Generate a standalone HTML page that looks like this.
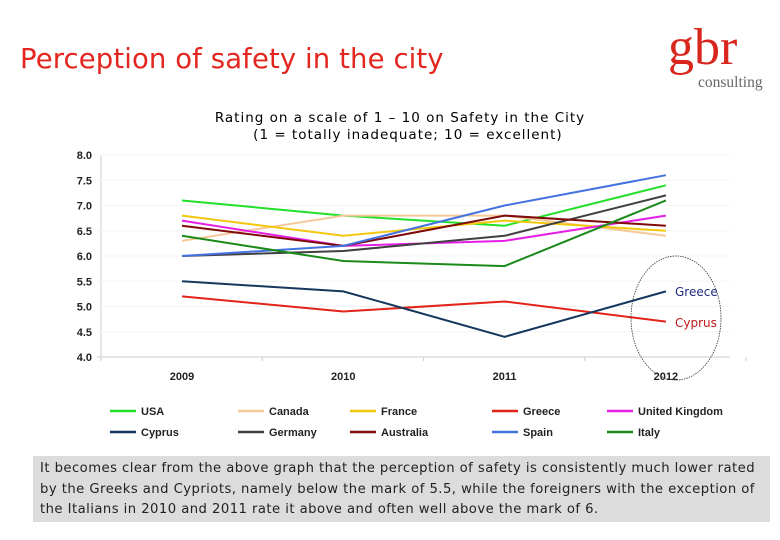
<!DOCTYPE html>
<html><head><meta charset="utf-8"><style>
body{margin:0;width:780px;height:540px;background:#fff;overflow:hidden;position:relative;font-family:"DejaVu Sans","Liberation Sans",sans-serif}
.t{position:absolute}
</style></head><body>
<div class="t" style="left:20px;top:43px;font-size:27.5px;color:#e3261f;font-family:'DejaVu Sans',sans-serif;letter-spacing:0.1px">Perception of safety in the city</div>
<div class="t" style="left:668px;top:18px;width:110px;height:75px">
<div style="position:absolute;left:0;top:0;font-family:'Liberation Serif',serif;font-size:52px;color:#d8261c;line-height:60px">gbr</div>
<div style="position:absolute;left:30px;top:56px;font-family:'Liberation Serif',serif;font-size:15.5px;color:#666">consulting</div></div>
<div class="t" style="left:180px;top:110px;width:440px;text-align:center;font-size:13.5px;letter-spacing:1px;line-height:17px;color:#000">Rating on a scale of 1 – 10 on Safety in the City<br>&nbsp;&nbsp;&nbsp;(1 = totally inadequate; 10 = excellent)</div>
<svg class="t" style="left:0;top:0" width="780" height="540" id="chart"></svg>
<div class="t" style="left:33px;top:456px;width:737px;height:66px;background:#dcdcdc;padding:3px 4px 0 7px;box-sizing:border-box;font-size:13.2px;letter-spacing:0.45px;line-height:20.5px;color:#222">It becomes clear from the above graph that the perception of safety is consistently much lower rated by the Greeks and Cypriots, namely below the mark of 5.5, while the foreigners with the exception of the Italians in 2010 and 2011 rate it above and often well above the mark of 6.</div>
<script>
const years=["2009","2010","2011","2012"];
const yTicks=[4.0,4.5,5.0,5.5,6.0,6.5,7.0,7.5,8.0];
const seriesNames=["USA","Canada","France","Greece","United Kingdom","Cyprus","Germany","Australia","Spain","Italy"];
const seriesColors=["#22e02a","#f5c99a","#f2c80f","#e2231a","#e61fe6","#17375e","#404040","#7f0a0a","#4472e0","#1a8a1a"];
const usa=[7.1,6.8,6.6,7.4];
const canada=[6.3,6.8,6.8,6.4];
const france=[6.8,6.4,6.7,6.5];
const greece=[5.2,4.9,5.1,4.7];
const uk=[6.7,6.2,6.3,6.8];
const cyprus=[5.5,5.3,4.4,5.3];
const germany=[6.0,6.1,6.4,7.2];
const australia=[6.6,6.2,6.8,6.6];
const spain=[6.0,6.2,7.0,7.6];
const italy=[6.4,5.9,5.8,7.1];
const allSeries=[usa,canada,france,greece,uk,cyprus,germany,australia,spain,italy];
const NS="http://www.w3.org/2000/svg",svg=document.getElementById('chart');
const y=v=>357-(v-4)*50.5, x=i=>182+i*161.3;
function mk(t,a,p){const e=document.createElementNS(NS,t);for(const k in a)e.setAttribute(k,a[k]);(p||svg).appendChild(e);return e;}
mk('line',{x1:101,y1:155,x2:101,y2:357,stroke:'#ccc'});
yTicks.forEach(v=>{const g=mk('line',{x1:97,x2:730,y1:y(v),y2:y(v),stroke:v==4?'#ccc':'#f4f4f4'});


const t=mk('text',{x:92,y:y(v)+4,'text-anchor':'end','font-size':11,'font-weight':'bold','font-family':'Liberation Sans,sans-serif',fill:'#222'});t.textContent=v.toFixed(1);

});
[0,1,2,3,4].forEach(i=>mk('line',{x1:101+i*161.3,x2:101+i*161.3,y1:357,y2:361,stroke:'#ccc'}));
years.forEach((s,i)=>{const t=mk('text',{x:x(i),y:380,'text-anchor':'middle','font-size':11,'font-weight':'bold','font-family':'Liberation Sans,sans-serif',fill:'#222'});t.textContent=s;

});
allSeries.forEach((d,k)=>{const p=mk('polyline',{points:d.map((v,i)=>x(i)+','+y(v)).join(' '),fill:'none',stroke:seriesColors[k],'stroke-width':2});

});
const lx=[110,238,350,492,607];
seriesNames.forEach((n,k)=>{const cx=lx[k%5],cy=k<5?411:432;
const g=mk('g',{});


mk('line',{x1:cx,x2:cx+26,y1:cy,y2:cy,stroke:seriesColors[k],'stroke-width':2.5},g);
const t=mk('text',{x:cx+31,y:cy+4,'font-size':11,'font-weight':'bold','font-family':'Liberation Sans,sans-serif',fill:'#222'},g);t.textContent=n;});
const c=mk('ellipse',{cx:676,cy:318,rx:45,ry:62,fill:'none',stroke:'#333','stroke-width':0.8,'stroke-dasharray':'1.5 1'});


const a1=mk('text',{x:675,y:296,'font-size':12,fill:'#1f2a80','font-family':'DejaVu Sans,sans-serif'});a1.textContent='Greece';


const a2=mk('text',{x:675,y:327,'font-size':12,fill:'#c0181a','font-family':'DejaVu Sans,sans-serif'});a2.textContent='Cyprus';


</script>
</body></html>
